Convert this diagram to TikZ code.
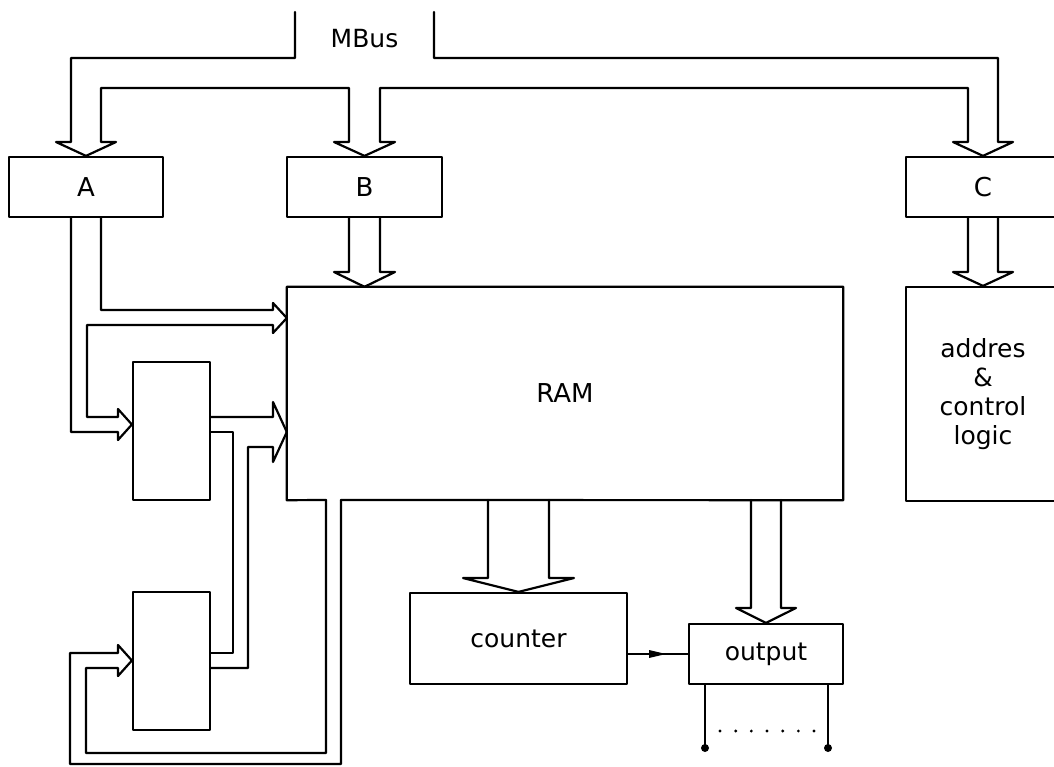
\documentclass[tikz,border=0pt]{standalone}
\usepackage{fontspec}
\setmainfont{DejaVu Sans}
\tikzset{
  ln/.style={line width=2.2pt, line join=round, line cap=round},
  blk/.style={draw, ln, rectangle, inner sep=0pt, align=center},
  capf/.style={font=\fontsize{26}{29}\selectfont},
  lowf/.style={font=\fontsize{25}{29}\selectfont},
}
\begin{document}
\begin{tikzpicture}[x=1pt,y=-1pt]
\useasboundingbox (0,0) rectangle (1054,767);
\clip (0,0) rectangle (1054,767);

% boxes
\node[blk,capf,minimum width=154pt,minimum height=60pt] (A) at (86,187) {A};
\node[blk,capf,minimum width=155pt,minimum height=60pt] (B) at (364.5,187) {B};
\node[blk,capf,minimum width=154pt,minimum height=60pt] (C) at (983,187) {C};
\node[lowf,inner sep=0pt] (MB) at (364.5,39) {MBus};
\node[capf,inner sep=0pt,minimum width=556pt,minimum height=213pt] (RAM) at (565,393.5) {RAM};
\node[blk,lowf,minimum width=154pt,minimum height=214pt] (ADR) at (983,394) {addres\\\&\\control\\logic};
\node[blk,minimum width=77pt,minimum height=138pt] (M1) at (171.5,431) {};
\node[blk,minimum width=77pt,minimum height=138pt] (M2) at (171.5,661) {};
\node[blk,lowf,minimum width=217pt,minimum height=91pt] (CNT) at (518.5,638.5) {counter};
\node[blk,lowf,minimum width=154pt,minimum height=60pt] (OUT) at (766,654) {output};

% RAM outline with opening at the bottom
\draw[ln] (RAM.north west) -- (RAM.north east) -- (RAM.south east) -- (341,500);
\draw[ln] (326,500) -- (RAM.south west) -- (RAM.north west);

% MBus into A, B, C
\draw[ln] (295,12) -- (295,58) -- (71,58) -- (71,142) -- (56,142) -- (A.north) -- (116,142) -- (101,142)
  -- (101,88) -- (349,88) -- (349,142) -- (334,142) -- (B.north) -- (395,142) -- (380,142)
  -- (380,88) -- (968,88) -- (968,142) -- (953,142) -- (C.north) -- (1013,142) -- (998,142)
  -- (998,58) -- (434,58) -- (434,12);

% B -> RAM
\draw[ln] (349,0 |- B.south) -- (349,272) -- (334,272) -- (B.south |- RAM.north) -- (395,272) -- (380,272) -- (380,0 |- B.south);
% C -> control logic
\draw[ln] (968,0 |- C.south) -- (968,272) -- (953,272) -- (ADR.north) -- (1013,272) -- (998,272) -- (998,0 |- C.south);

% A -> RAM and A -> M1
\draw[ln] (101,0 |- A.south) -- (101,310) -- (273,310) -- (273,303) -- (RAM.west |- 0,318) -- (273,333) -- (273,325)
  -- (87,325) -- (87,417) -- (118,417) -- (118,409) -- (M1.west |- 0,424.5) -- (118,440) -- (118,432)
  -- (71,432) -- (71,0 |- A.south);

% M1 -> RAM and M2 -> RAM
\draw[ln] (M1.east |- 0,417) -- (273,417) -- (273,402) -- (RAM.west |- 0,432) -- (273,462) -- (273,447)
  -- (248,447) -- (248,668) -- (M2.east |- 0,668);
% M1 <-> M2
\draw[ln] (M1.east |- 0,432) -- (233,432) -- (233,653) -- (M2.east |- 0,653);

% RAM -> M2
\draw[ln] (326,500) -- (326,753) -- (86,753) -- (86,668) -- (118,668) -- (118,676) -- (M2.west |- 0,660.5)
  -- (118,645) -- (118,653) -- (70,653) -- (70,764) -- (341,764) -- (341,500);

% RAM -> counter
\draw[ln] (488,500) -- (488,578) -- (463,578) -- (CNT.north) -- (574,578) -- (549,578) -- (549,500);
% RAM -> output
\draw[ln] (751,500) -- (751,608) -- (736,608) -- (OUT.north) -- (796,608) -- (781,608) -- (781,500);

% counter -> output (small arrow in the middle)
\coordinate (mid) at (666,654);
\draw[ln] (CNT.east |- OUT.west) -- (OUT.west);
\fill (mid) -- ++(-17,-4) -- ++(0,8) -- cycle;

% output terminals
\draw[ln] (705,0 |- OUT.south) -- (705,745);
\draw[ln] (828,0 |- OUT.south) -- (828,745);
\fill (705,748) circle (4);
\fill (828,748) circle (4);
\foreach \i in {0,...,6} \fill (720+\i*15.67,731) circle (1.6);
\end{tikzpicture}
\end{document}
